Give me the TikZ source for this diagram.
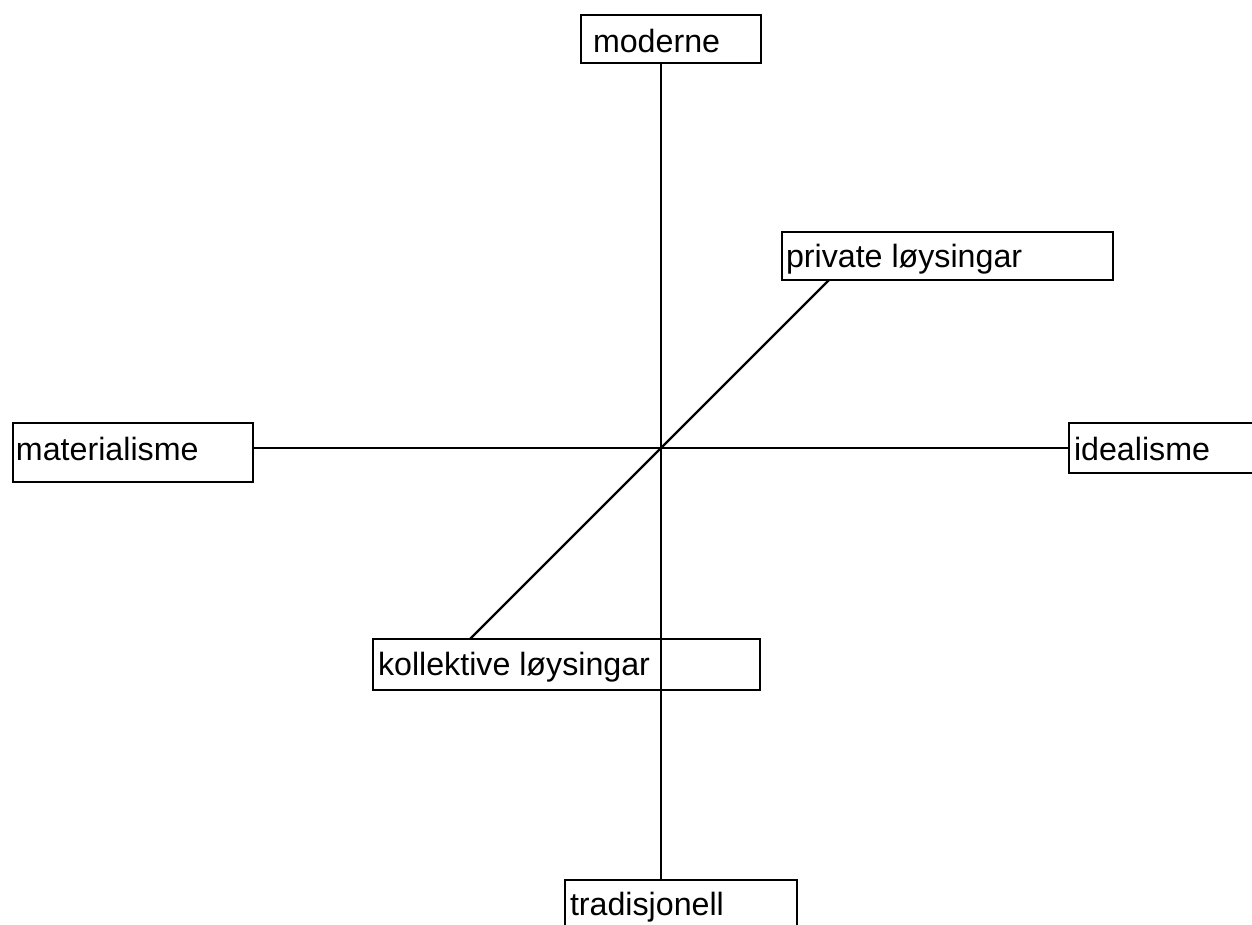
\documentclass[tikz,border=0pt]{standalone}
\usepackage{fontspec}
\setmainfont{Liberation Sans}
\usetikzlibrary{calc}
\begin{document}
\begin{tikzpicture}[x=1pt,y=-1pt,
  box/.style={draw=black, line width=2.3pt, rectangle, inner sep=0pt, outer sep=0pt, anchor=north west},
  lbl/.style={inner sep=0pt, outer sep=0pt, anchor=base west, font=\fontsize{32.2}{38}\selectfont},
  axis/.style={draw=black, line width=2.3pt}]
\useasboundingbox (0,0) rectangle (1252,925);
\clip (0,0) rectangle (1252,925);
% boxes
\node[box, minimum width=180pt, minimum height=48pt] (mod) at (581,15) {};
\node[box, minimum width=232pt, minimum height=80pt] (trad) at (565,880) {};
\node[box, minimum width=240pt, minimum height=59pt] (mat) at (13,423) {};
\node[box, minimum width=300pt, minimum height=50pt] (ideal) at (1069,423) {};
\node[box, minimum width=331pt, minimum height=48pt] (priv) at (782,232) {};
\node[box, minimum width=387pt, minimum height=51pt] (kol) at (373,639) {};
% labels
\node[lbl] (tmod) at ($(mod.north west)+(12,38)$) {moderne};
\node[lbl] (ttrad) at ($(trad.north west)+(5,35)$) {tradisjonell};
\node[lbl] (tmat) at ($(mat.north west)+(3,37)$) {materialisme};
\node[lbl] (tideal) at ($(ideal.north west)+(5,37)$) {idealisme};
\node[lbl] (tpriv) at ($(priv.north west)+(4,36)$) {private løysingar};
\node[lbl] (tkol) at ($(kol.north west)+(5,36)$) {kollektive løysingar};
% axes
\coordinate (c) at (661,448);
\coordinate (dA) at (829,280);
\coordinate (dB) at (470,639);
\draw[axis] (c |- mod.south) -- (c |- trad.north);
\draw[axis] (mat.east |- c) -- (ideal.west |- c);
\draw[axis] (priv.south -| dA) -- (kol.north -| dB);
\end{tikzpicture}
\end{document}
